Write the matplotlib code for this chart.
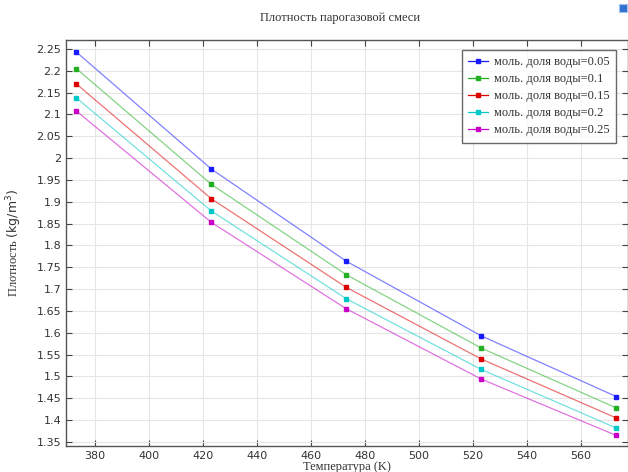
import matplotlib
matplotlib.use("Agg")
import matplotlib.pyplot as plt
from matplotlib.patches import Rectangle

plt.rcParams["mathtext.fontset"] = "dejavusans"

temps = [373.15, 423.15, 473.15, 523.15, 573.15]
labels = ["моль. доля воды=0.05", "моль. доля воды=0.1", "моль. доля воды=0.15",
          "моль. доля воды=0.2", "моль. доля воды=0.25"]
rho_005 = [2.243, 1.975, 1.764, 1.593, 1.454]
rho_010 = [2.205, 1.940, 1.733, 1.565, 1.428]
rho_015 = [2.170, 1.907, 1.704, 1.540, 1.405]
rho_020 = [2.138, 1.879, 1.678, 1.516, 1.382]
rho_025 = [2.108, 1.853, 1.655, 1.494, 1.365]
series = [rho_005, rho_010, rho_015, rho_020, rho_025]
colors = ["#1a1aff", "#22b022", "#dd0000", "#00c8c8", "#c800c8"]
xticks = [380, 400, 420, 440, 460, 480, 500, 520, 540, 560]
yticks = [1.35, 1.4, 1.45, 1.5, 1.55, 1.6, 1.65, 1.7, 1.75, 1.8, 1.85, 1.9, 1.95,
          2.0, 2.05, 2.1, 2.15, 2.2, 2.25]
ytick_labels = ["1.35", "1.4", "1.45", "1.5", "1.55", "1.6", "1.65", "1.7", "1.75", "1.8",
                "1.85", "1.9", "1.95", "2", "2.05", "2.1", "2.15", "2.2", "2.25"]

W, H = 628, 472
fig = plt.figure(figsize=(W / 100, H / 100), dpi=100)
ax = fig.add_axes([66 / W, 1 - 446 / H, (628 - 66) / W, (446 - 40) / H])

serif = ["Liberation Serif", "DejaVu Serif"]

for ys, c, lab in zip(series, colors, labels):
    ax.plot(temps, ys, color=c, lw=0.9, alpha=0.55, zorder=3)
    ax.plot(temps, ys, ls="none", marker="s", ms=3.5, color=c, zorder=4)
    ax.plot([], [], color=c, lw=0.9, alpha=1.0, marker="s", ms=3.5, mfc=c, mec=c, label=lab)

ax.set_xlim(369.3, 577.5)
ax.set_ylim(1.3408, 2.2706)
ax.set_xticks(xticks)
ax.set_yticks(yticks)
ax.set_yticklabels(ytick_labels)
ax.grid(True, color="#e6e6e6", lw=0.8, zorder=0)
ax.tick_params(direction="in", top=True, right=True, length=4, width=0.8,
               labelsize=8, colors="#444444", labelcolor="#333333")
for s in ax.spines.values():
    s.set_color("#555555")
    s.set_linewidth(1.0)

ax.set_xlabel("Температура (K)", family=serif, fontsize=9, color="#333333", labelpad=0)
ax.set_ylabel(r"Плотность $\mathrm{(kg/m^3)}$", family=serif, fontsize=9, color="#333333",
              labelpad=9)
fig.text(340 / W, 1 - 18 / H, "Плотность парогазовой смеси", family=serif, fontsize=9,
         color="#333333", ha="center", va="center")

leg = ax.legend(loc="upper right", bbox_to_anchor=((616 - 66) / 562, (446 - 50) / 406),
                bbox_transform=ax.transAxes,
                prop={"family": serif, "size": 9}, frameon=True, fancybox=False,
                shadow=False, borderpad=0.5, labelspacing=0.4, handlelength=1.6,
                handletextpad=0.5, borderaxespad=0.0)
leg.get_frame().set_edgecolor("#444444")
leg.get_frame().set_linewidth(1.0)
for t in leg.get_texts():
    t.set_color("#333333")

# small icon at top-right corner
fig.patches.append(Rectangle((619 / W, 1 - 12 / H), 8 / W, 8 / H, transform=fig.transFigure,
                             facecolor="#3070d0", edgecolor="#a0c0f0", lw=0.8))

fig.savefig("out.png", dpi=100)
